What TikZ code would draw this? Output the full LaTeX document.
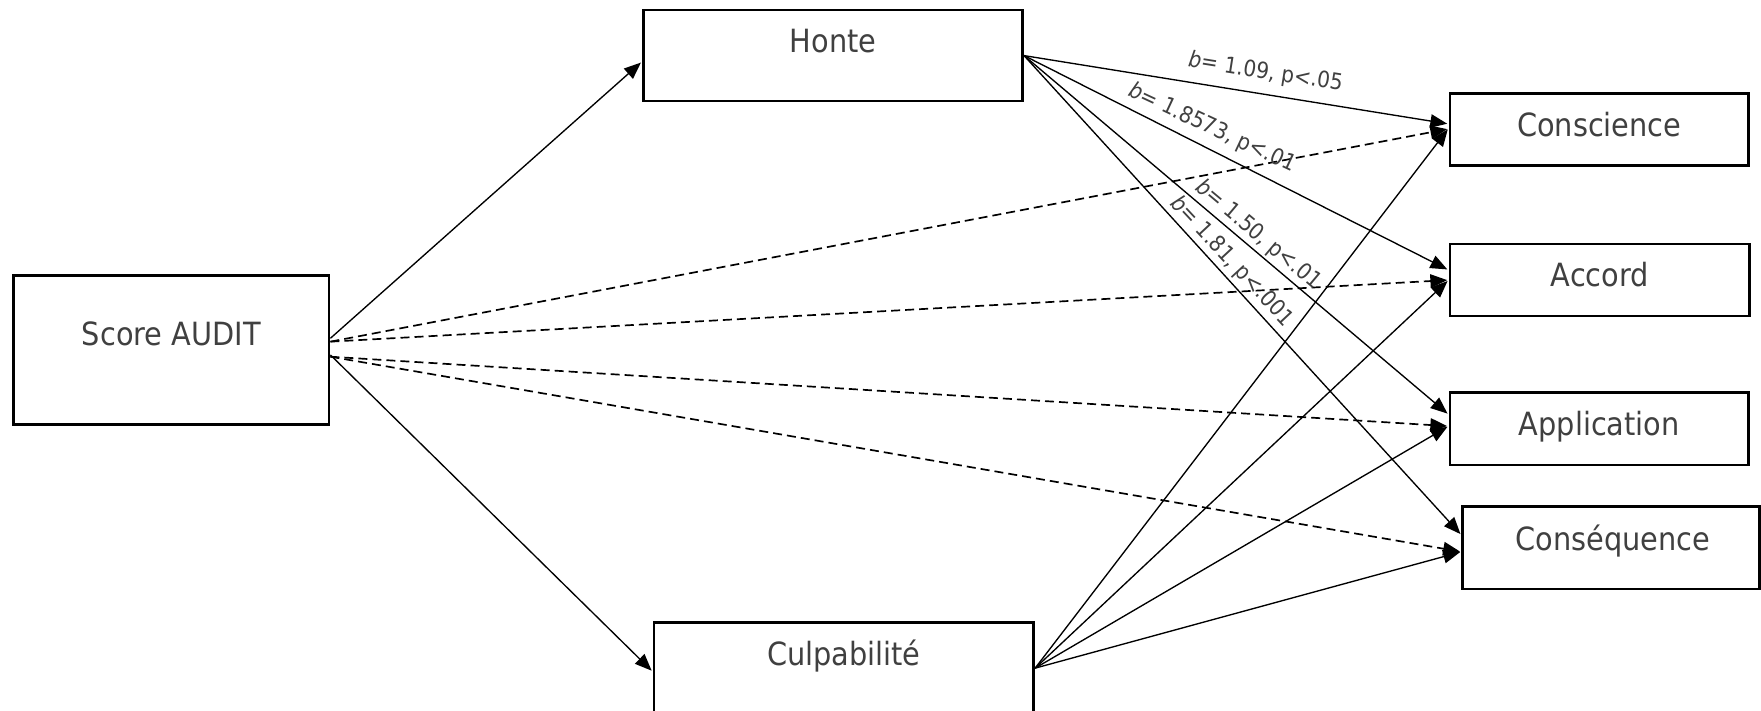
\documentclass[tikz,border=0pt]{standalone}
\usepackage{fontspec}
\IfFontExistsTF{DejaVu Sans Condensed}{\setmainfont{DejaVu Sans Condensed}}{\setmainfont{DejaVu Sans}[FakeStretch=0.9]}
\usetikzlibrary{arrows.meta,calc}
\definecolor{txtgrey}{HTML}{404040}
\begin{document}
\begin{tikzpicture}[x=1pt,y=-1pt,
  box/.style={draw=black, line width=2.4pt, inner sep=0pt},
  txt/.style={text=txtgrey, inner sep=0pt, anchor=base, font=\fontsize{28.5}{32}\selectfont},
  lab/.style={text=txtgrey, inner sep=0pt, font=\fontsize{20}{23}\selectfont},
  arr/.style={line width=1.2pt, -{Triangle[length=15pt,width=12pt]}, shorten >=1.2pt},
  darr/.style={arr, line width=1.5pt, dash pattern=on 8pt off 4.5pt}]
\useasboundingbox (0,0) rectangle (1568,633);
% boxes
\node[box, minimum width=281pt, minimum height=133pt] (audit) at (152.5,311.5) {};
\node[box, minimum width=337.8pt, minimum height=81pt] (honte) at (741.7,49.5) {};
\node[box, minimum width=338.2pt, minimum height=81pt] (culp) at (751.4,594.9) {};
\node[box, minimum width=266pt, minimum height=64.5pt] (consc) at (1424,115.25) {};
\node[box, minimum width=267pt, minimum height=64pt] (accord) at (1424.5,249.35) {};
\node[box, minimum width=266pt, minimum height=64.7pt] (appl) at (1424,381.65) {};
\node[box, minimum width=264pt, minimum height=73.2pt] (conseq) at (1434.4,487.8) {};
% texts
\node[txt] (taudit) at ([yshift=4.3pt]audit.center) {Score AUDIT};
\node[txt] (thonte) at ([yshift=2.5pt]honte.center) {Honte};
\node[txt] (tculp) at ([yshift=2.5pt]culp.center) {Culpabilité};
\node[txt] (tconsc) at ([yshift=-5.85pt]consc.center) {Conscience};
\node[txt] (taccord) at ([yshift=-5.95pt]accord.center) {Accord};
\node[txt] (tappl) at ([yshift=-6.5pt]appl.center) {Application};
\node[txt] (tconseq) at ([xshift=1.8pt,yshift=-2.8pt]conseq.center) {Conséquence};
% Score AUDIT
\draw[arr] ([yshift=10.3pt]audit.east) -- ([yshift=-5.4pt]honte.west);
\draw[arr] ([yshift=-4.5pt]audit.east) -- ([yshift=-3.1pt]culp.west);
\draw[darr] ([yshift=7.3pt]audit.east) -- ([yshift=0.5pt]consc.west);
\draw[darr] ([yshift=7.3pt]audit.east) -- (accord.west);
\draw[darr] ([yshift=-6.1pt]audit.east) -- ([yshift=2.2pt]appl.west);
\draw[darr] ([yshift=-6.1pt]audit.east) -- ([yshift=-3.5pt]conseq.west);
% Honte
\draw[arr] (honte.east) -- ([yshift=4.9pt]consc.west);
\draw[arr] (honte.east) -- ([yshift=8.9pt]accord.west);
\draw[arr] (honte.east) -- ([yshift=12.6pt]appl.west);
\draw[arr] (honte.east) -- ([yshift=11.4pt]conseq.west);
% Culpabilite
\draw[arr] (culp.east) -- ([yshift=1pt]consc.west);
\draw[arr] (culp.east) -- (accord.west);
\draw[arr] (culp.east) -- ([yshift=2.2pt]appl.west);
\draw[arr] (culp.east) -- ([yshift=-3.5pt]conseq.west);
% labels
\node[lab, rotate=-9] (l1) at (1126.8,64.6) {\textit{b}= 1.09, p<.05};
\node[lab, rotate=-25] (l2) at (1079.4,114.3) {\textit{b}= 1.8573, p<.01};
\node[lab, rotate=-40] (l3) at (1120.4,209.2) {\textit{b}= 1.50, p<.01};
\node[lab, rotate=-47] (l4) at (1096.7,233) {\textit{b}= 1.81, p<.001};
\end{tikzpicture}
\end{document}
